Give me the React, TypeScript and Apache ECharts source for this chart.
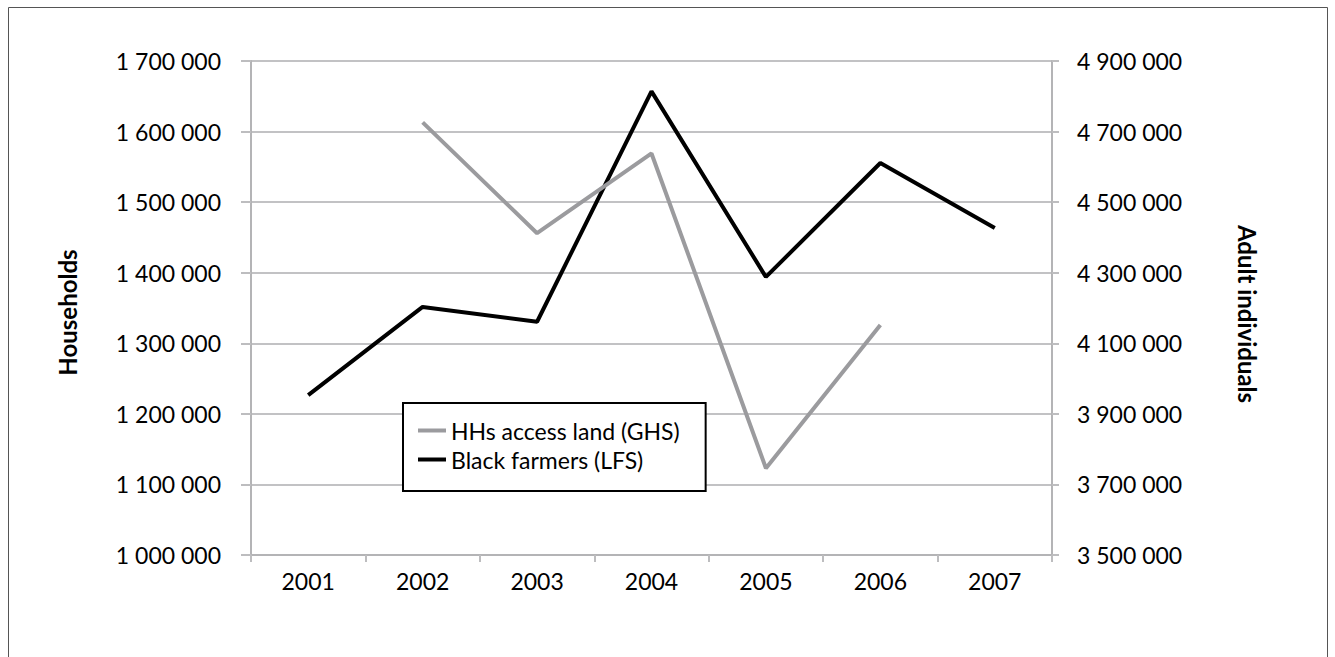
import React, { useEffect, useRef } from "react";
import * as echarts from "echarts";

const years = ["2001", "2002", "2003", "2004", "2005", "2006", "2007"];
const householdsAccessLand = [null, 1613000, 1456000, 1569000, 1123000, 1326000, null];
const blackFarmers = [3953000, 4203000, 4161000, 4814000, 4288000, 4611000, 4427000];
const seriesNames = ["HHs access land (GHS)", "Black farmers (LFS)"];
const leftAxisName = "Households";
const rightAxisName = "Adult individuals";

const FONT = "Lato";

function fmt(v: number): string {
  return Math.round(v).toString().replace(/\B(?=(\d{3})+(?!\d))/g, " ");
}

export default function App() {
  const ref = useRef<HTMLDivElement>(null);
  useEffect(() => {
    if (!ref.current) return;
    const chart = echarts.init(ref.current, undefined, { renderer: "svg" });
    chart.setOption({
      animation: false,
      backgroundColor: "#ffffff",
      textStyle: { fontFamily: FONT },
      grid: { left: 243, right: 276, top: 54, bottom: 102, containLabel: false },
      legend: {
        data: seriesNames,
        orient: "vertical",
        left: 395,
        top: 396,
        icon: "rect",
        itemWidth: 28,
        itemHeight: 4,
        itemGap: 6,
        padding: [16, 26, 20, 15],
        borderColor: "#000000",
        borderWidth: 2,
        backgroundColor: "#ffffff",
        textStyle: { fontFamily: FONT, fontSize: 23, color: "#000" },
      },
      xAxis: {
        type: "category",
        data: years,
        boundaryGap: true,
        axisLine: { show: true, lineStyle: { color: "#b4b4b6", width: 2 } },
        axisTick: { show: true, length: 7, lineStyle: { color: "#bdbdbf", width: 2 } },
        axisLabel: { margin: 14, fontSize: 23, color: "#000", fontFamily: FONT },
        splitLine: { show: false },
      },
      yAxis: [
        {
          type: "value",
          min: 1000000,
          max: 1700000,
          interval: 100000,
          axisLine: { show: true, lineStyle: { color: "#b4b4b6", width: 2 } },
          axisTick: { show: true, length: 10, lineStyle: { color: "#bdbdbf", width: 2 } },
          axisLabel: { margin: 30, fontSize: 23, color: "#000", fontFamily: FONT, formatter: fmt },
          splitLine: { show: true, lineStyle: { color: "#c2c2c4", width: 2 } },
        },
        {
          type: "value",
          min: 3500000,
          max: 4900000,
          interval: 200000,
          position: "right",
          axisLine: { show: true, lineStyle: { color: "#b4b4b6", width: 2 } },
          axisTick: { show: true, length: 7, lineStyle: { color: "#bdbdbf", width: 2 } },
          axisLabel: { margin: 25, fontSize: 23, color: "#000", fontFamily: FONT, formatter: fmt },
          splitLine: { show: false },
        },
      ],
      series: [
        {
          name: seriesNames[0],
          type: "line",
          yAxisIndex: 0,
          data: householdsAccessLand,
          symbol: "none",
          connectNulls: false,
          lineStyle: { color: "#9b9b9e", width: 4 },
          itemStyle: { color: "#9b9b9e" },
          z: 3,
        },
        {
          name: seriesNames[1],
          type: "line",
          yAxisIndex: 1,
          data: blackFarmers,
          symbol: "none",
          lineStyle: { color: "#000000", width: 4 },
          itemStyle: { color: "#000000" },
          z: 2,
        },
      ],
      graphic: [
        {
          type: "rect",
          shape: { x: 0.5, y: 0.5, width: 1319, height: 800 },
          style: { fill: "none", stroke: "#555555", lineWidth: 1 },
          silent: true,
          z: -10,
        },
        {
          type: "text",
          x: 59.5,
          y: 305.5,
          rotation: Math.PI / 2,
          style: {
            text: leftAxisName,
            fontFamily: FONT,
            fontSize: 24,
            fontWeight: "bold",
            fill: "#000",
            align: "center",
            verticalAlign: "middle",
          },
        },
        {
          type: "text",
          x: 1239.5,
          y: 307,
          rotation: -Math.PI / 2,
          style: {
            text: rightAxisName,
            fontFamily: FONT,
            fontSize: 24,
            fontWeight: "bold",
            fill: "#000",
            align: "center",
            verticalAlign: "middle",
          },
        },
      ],
    });
    return () => chart.dispose();
  }, []);
  return (
    <div
      ref={ref}
      style={{ position: "absolute", left: 8, top: 7, width: 1320, height: 650 }}
    />
  );
}
